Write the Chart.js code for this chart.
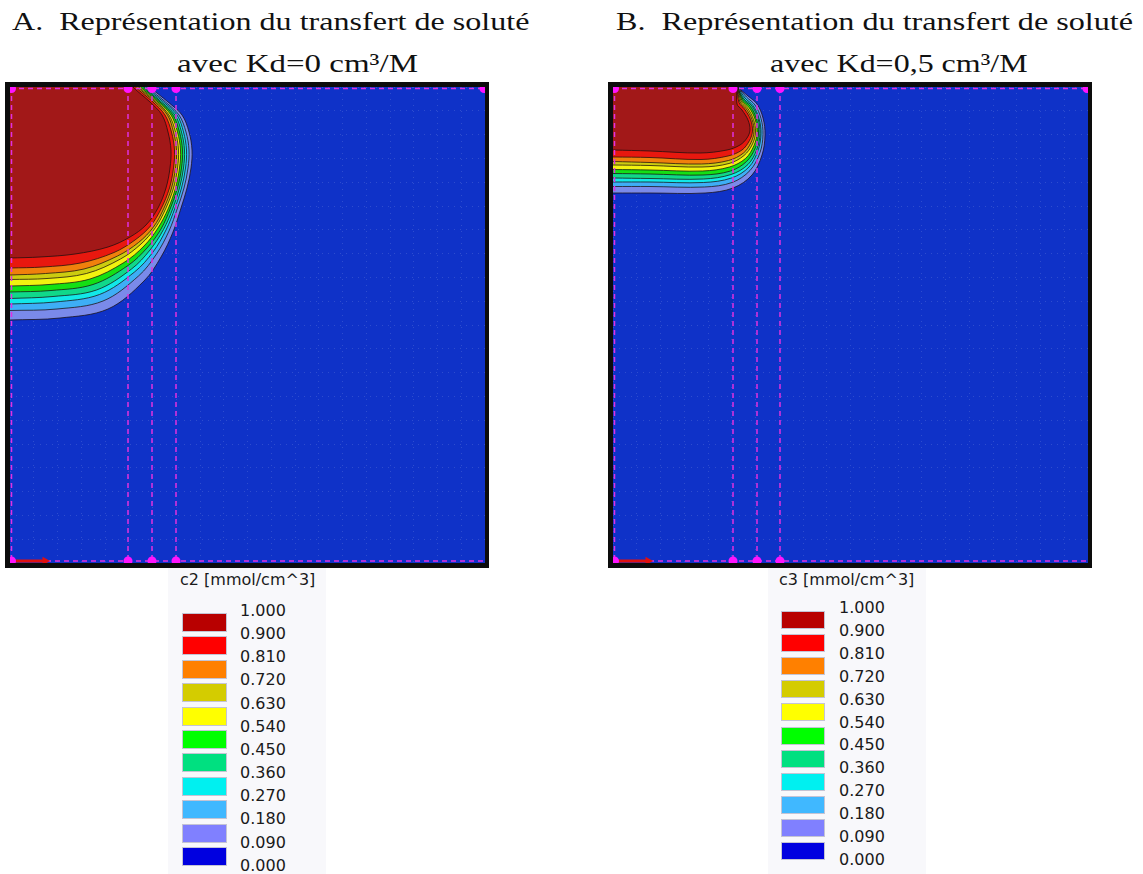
<!DOCTYPE html>
<html lang="fr">

<head>
    <meta charset="UTF-8">
    <title>Transfert de soluté</title>
    <script src="https://cdn.jsdelivr.net/npm/chart.js"></script>
    <style>
        body {
            margin: 0;
            width: 1143px;
            height: 874px;
            position: relative;
            overflow: hidden;
            background: #fff;
        }

        .title {
            position: absolute;
            white-space: pre;
            font-family: "Liberation Serif", serif;
            font-size: 26px;
            line-height: 26px;
            color: #111;
            transform-origin: left top;
        }

        .frame {
            position: absolute;
            background: #0c0c0c;
        }

        .plot {
            position: absolute;
            background: #0f32c8;
        }

        .legend {
            position: absolute;
            background: #f8f8fb;
            font-family: "DejaVu Sans", sans-serif;
            font-size: 16px;
            line-height: 16px;
            color: #1a1a1a;
        }

        .legend div {
            position: absolute;
            white-space: nowrap;
        }

        .swatch {
            box-sizing: border-box;
            border: 1px solid #c4c4d4;
        }
    </style>
</head>

<body>
    <div class="title" id="tA1" style="left:12px;top:9px">A.  Représentation du transfert de soluté</div>
    <div class="title" id="tA2" style="left:177px;top:51px">avec Kd=0 cm³/M</div>
    <div class="title" id="tB1" style="left:616px;top:9px">B.  Représentation du transfert de soluté</div>
    <div class="title" id="tB2" style="left:770px;top:51px">avec Kd=0,5 cm³/M</div>

    <div class="frame" style="left:5px;top:82px;width:484px;height:486px"></div>
    <div class="frame" style="left:608px;top:82px;width:484px;height:486px"></div>
    <canvas class="plot" id="plotA" width="475" height="476" style="left:10px;top:87px"></canvas>
    <canvas class="plot" id="plotB" width="475" height="476" style="left:613px;top:87px"></canvas>

    <div class="legend" id="legA" style="left:168px;top:568px;width:158px;height:306px"></div>
    <div class="legend" id="legB" style="left:768px;top:568px;width:158px;height:306px"></div>

    <script>
        // domain size (width, depth)
        const domainW = 95;
        const domainH = 95.2;

        const levels = ['1.000', '0.900', '0.810', '0.720', '0.630', '0.540', '0.450', '0.360', '0.270', '0.180', '0.090', '0.000'];

        // iso-lines, [x, depth], from c=0.90 (inner) to c=0.09 (outer)
        const contoursA = [
            [[24.6, 0], [28.0, 3.0], [30.4, 5.6], [31.6, 9.0], [32.2, 12.6], [32.0, 16.2], [31.2, 20.2], [29.6, 24.2], [27.2, 27.6], [24.0, 30.0], [19.6, 32.0], [13.0, 33.4], [6.0, 34.0], [0, 34.2]],
            [[25.1, 0], [28.6, 3.0], [31.0, 5.6], [32.3, 9.0], [32.9, 12.6], [32.7, 16.2], [31.9, 20.2], [30.3, 24.2], [28.1, 27.8], [25.0, 30.6], [20.8, 33.1], [14.1, 35.2], [6.6, 36.0], [0, 36.2]],
            [[25.5, 0], [29.0, 3.0], [31.5, 5.6], [32.7, 9.0], [33.3, 12.6], [33.1, 16.2], [32.3, 20.2], [30.8, 24.2], [28.7, 28.0], [25.7, 31.1], [21.5, 33.8], [14.8, 36.4], [7.1, 37.3], [0, 37.6]],
            [[25.8, 0], [29.3, 3.0], [31.8, 5.6], [33.1, 9.0], [33.7, 12.6], [33.5, 16.2], [32.7, 20.2], [31.2, 24.2], [29.1, 28.1], [26.2, 31.4], [22.1, 34.4], [15.3, 37.3], [7.4, 38.3], [0, 38.5]],
            [[26.1, 0], [29.6, 3.0], [32.2, 5.6], [33.5, 9.0], [34.1, 12.6], [33.9, 16.2], [33.1, 20.2], [31.7, 24.2], [29.6, 28.2], [26.8, 31.8], [22.8, 35.1], [16.0, 38.4], [7.8, 39.5], [0, 39.8]],
            [[26.5, 0], [30.0, 3.0], [32.6, 5.6], [33.9, 9.0], [34.5, 12.6], [34.3, 16.2], [33.5, 20.2], [32.1, 24.2], [30.2, 28.4], [27.4, 32.2], [23.6, 35.7], [16.6, 39.5], [8.2, 40.7], [0, 41.0]],
            [[26.8, 0], [30.3, 3.0], [33.0, 5.6], [34.3, 9.0], [34.9, 12.6], [34.7, 16.2], [33.9, 20.2], [32.6, 24.2], [30.7, 28.5], [28.0, 32.6], [24.3, 36.4], [17.3, 40.6], [8.6, 41.9], [0, 42.3]],
            [[27.1, 0], [30.7, 3.0], [33.4, 5.6], [34.7, 9.0], [35.3, 12.6], [35.1, 16.2], [34.3, 20.2], [33.0, 24.2], [31.2, 28.6], [28.6, 33.0], [24.9, 37.0], [17.9, 41.5], [9.0, 43.0], [0, 43.4]],
            [[27.5, 0], [31.1, 3.0], [33.8, 5.6], [35.2, 9.0], [35.8, 12.6], [35.6, 16.2], [34.8, 20.2], [33.5, 24.2], [31.8, 28.8], [29.3, 33.4], [25.7, 37.8], [18.6, 42.8], [9.4, 44.4], [0, 44.7]],
            [[28.0, 0], [31.6, 3.0], [34.4, 5.6], [35.8, 9.0], [36.4, 12.6], [36.2, 16.2], [35.4, 20.2], [34.2, 24.2], [32.6, 29.0], [30.2, 34.0], [26.8, 38.8], [19.6, 44.4], [10.0, 46.2], [0, 46.6]]
        ];

        const contoursB = [
            [[24.8, 0], [24.8, 3.4], [25.8, 4.6], [27.0, 6.6], [27.4, 8.6], [26.8, 10.2], [25.4, 11.6], [22.8, 12.6], [17.4, 13.2], [7.4, 12.8], [0, 12.6]],
            [[24.8, 0], [25.2, 3.1], [26.3, 4.4], [27.5, 6.5], [27.9, 8.8], [27.3, 10.7], [25.8, 12.6], [23.0, 13.8], [17.6, 14.5], [7.4, 14.1], [0, 14.0]],
            [[24.9, 0], [25.4, 3.0], [26.6, 4.3], [27.8, 6.5], [28.2, 8.9], [27.6, 11.1], [26.1, 13.2], [23.1, 14.7], [17.7, 15.4], [7.4, 15.1], [0, 14.9]],
            [[24.9, 0], [25.6, 2.8], [26.9, 4.2], [28.1, 6.5], [28.5, 9.0], [27.9, 11.4], [26.2, 13.7], [23.2, 15.3], [17.8, 16.0], [7.4, 15.7], [0, 15.6]],
            [[24.9, 0], [25.8, 2.7], [27.2, 4.1], [28.4, 6.4], [28.8, 9.1], [28.2, 11.7], [26.5, 14.3], [23.3, 16.0], [17.9, 16.8], [7.4, 16.6], [0, 16.5]],
            [[24.9, 0], [26.0, 2.5], [27.5, 3.9], [28.7, 6.4], [29.1, 9.2], [28.5, 12.1], [26.7, 14.9], [23.5, 16.8], [18.0, 17.6], [7.4, 17.4], [0, 17.3]],
            [[24.9, 0], [26.2, 2.4], [27.8, 3.8], [29.0, 6.3], [29.4, 9.3], [28.8, 12.4], [27.0, 15.5], [23.6, 17.5], [18.1, 18.4], [7.4, 18.3], [0, 18.2]],
            [[25.0, 0], [26.4, 2.2], [28.0, 3.7], [29.2, 6.3], [29.6, 9.3], [29.0, 12.7], [27.2, 16.0], [23.7, 18.2], [18.1, 19.1], [7.4, 19.0], [0, 19.0]],
            [[25.0, 0], [26.7, 2.0], [28.4, 3.6], [29.6, 6.3], [30.0, 9.5], [29.4, 13.1], [27.4, 16.7], [23.8, 19.1], [18.3, 20.0], [7.4, 19.9], [0, 19.9]],
            [[25.0, 0], [27.0, 1.8], [28.8, 3.4], [30.0, 6.2], [30.4, 9.6], [29.8, 13.6], [27.8, 17.6], [24.0, 20.2], [18.4, 21.2], [7.4, 21.2], [0, 21.2]]
        ];

        // mesh guide lines (x positions)
        const guidesA = [0.3, 23.6, 28.4, 33.2];
        const guidesB = [0.3, 24.0, 28.8, 33.4];

        const legendColors = ['#b80000', '#ff0000', '#ff8000', '#d4cc00', '#ffff00', '#00ff00', '#00e080', '#00f0f0', '#40b8ff', '#8080ff', '#0000e0'];
        // colours as they show up inside the plot (slightly muted)
        const fillColors = ['#a21818', '#e8180f', '#f0800c', '#cccc10', '#f2f210', '#14e014', '#10d88a', '#12e8e8', '#3eaef6', '#7a8aea'];

        function closeShape(pts) {
            // carry the iso-line on past both domain edges, round the top-left corner, so it can be filled
            const n = pts.length;
            const head = { x: 2 * pts[0][0] - pts[1][0], y: 2 * pts[0][1] - pts[1][1] - 1 };
            const tail = { x: 2 * pts[n - 1][0] - pts[n - 2][0] - 1, y: 2 * pts[n - 1][1] - pts[n - 2][1] };
            return [head]
                .concat(pts.map(p => ({ x: p[0], y: p[1] })))
                .concat([tail, { x: -14, y: -14 }]);
        }

        function makePanel(id, contours, guides) {
            const datasets = [];

            contours.forEach((pts, k) => {
                datasets.push({
                    data: closeShape(pts),
                    fill: 'shape',
                    backgroundColor: fillColors[k],
                    borderColor: 'rgba(25,15,15,0.75)',
                    borderWidth: 1,
                    tension: 0.35,
                    pointRadius: 0,
                    order: 10 + k
                });
            });

            guides.forEach(gx => {
                datasets.push({
                    data: [{ x: gx, y: 0 }, { x: gx, y: domainH }],
                    borderColor: '#e030e0',
                    borderWidth: 1.5,
                    borderDash: [5, 4],
                    pointRadius: 0,
                    fill: false,
                    order: 2
                });
            });

            [0.3, domainH - 0.4].forEach(gy => {
                datasets.push({
                    data: [{ x: 0, y: gy }, { x: domainW, y: gy }],
                    borderColor: '#e030e0',
                    borderWidth: 1.5,
                    borderDash: [5, 4],
                    pointRadius: 0,
                    fill: false,
                    order: 2
                });
            });

            // markers
            const dots = guides.map(gx => ({ x: gx, y: 0.3 }))
                .concat([{ x: domainW - 0.2, y: 0.3 }])
                .concat(guides.map(gx => ({ x: gx, y: domainH - 0.4 })));
            datasets.push({
                data: dots,
                showLine: false,
                pointRadius: 4.5,
                pointBackgroundColor: '#ff14ff',
                pointBorderWidth: 0,
                order: 0
            });

            // x-axis arrow at the bottom left
            datasets.push({
                data: [{ x: 0.4, y: domainH - 0.4 }, { x: 7, y: domainH - 0.4 }],
                borderColor: '#e01010',
                borderWidth: 3,
                pointRadius: [0, 5],
                pointStyle: 'triangle',
                pointRotation: 90,
                pointBackgroundColor: '#e01010',
                pointBorderWidth: 0,
                fill: false,
                order: 0
            });

            return new Chart(document.getElementById(id), {
                type: 'line',
                data: { datasets: datasets },
                options: {
                    responsive: false,
                    animation: false,
                    events: [],
                    devicePixelRatio: 1,
                    layout: { padding: 0, autoPadding: false },
                    elements: { line: { capBezierPoints: false } },
                    plugins: { legend: { display: false }, tooltip: { enabled: false } },
                    scales: {
                        x: {
                            type: 'linear', min: 0, max: domainW,
                            ticks: { display: false, count: 21 },
                            grid: { drawTicks: false, color: 'rgba(255,255,255,0.13)' },
                            border: { display: false, dash: [1, 5] }
                        },
                        y: {
                            type: 'linear', min: 0, max: domainH, reverse: true,
                            ticks: { display: false, count: 21 },
                            grid: { drawTicks: false, color: 'rgba(255,255,255,0.13)' },
                            border: { display: false, dash: [1, 5] }
                        }
                    }
                }
            });
        }

        function makeLegend(id, title, lay) {
            const box = document.getElementById(id);
            let html = `<div style="left:${lay.titleX}px;top:4px">${title}</div>`;
            legendColors.forEach((c, i) => {
                html += `<div class="swatch" style="left:${lay.swX}px;top:${(lay.swY + i * lay.swPitch).toFixed(1)}px;` +
                    `width:${lay.swW}px;height:${lay.swH}px;background:${c}"></div>`;
            });
            levels.forEach((lv, i) => {
                html += `<div style="left:${lay.labX}px;top:${(lay.labY + i * lay.labPitch - 8).toFixed(1)}px">${lv}</div>`;
            });
            box.innerHTML = html;
        }

        function fitTitle(id, width) {
            const el = document.getElementById(id);
            el.style.transform = `scaleX(${width / el.offsetWidth})`;
        }

        makePanel('plotA', contoursA, guidesA);
        makePanel('plotB', contoursB, guidesB);

        makeLegend('legA', 'c2 [mmol/cm^3]', { titleX: 12, swX: 14, swY: 45, swW: 45, swH: 19, swPitch: 23.4, labX: 72, labY: 43, labPitch: 23.15 });
        makeLegend('legB', 'c3 [mmol/cm^3]', { titleX: 11, swX: 13, swY: 43, swW: 44, swH: 18, swPitch: 23.1, labX: 71, labY: 40, labPitch: 22.9 });

        fitTitle('tA1', 518);
        fitTitle('tA2', 241);
        fitTitle('tB1', 517);
        fitTitle('tB2', 257);
    </script>
</body>

</html>
